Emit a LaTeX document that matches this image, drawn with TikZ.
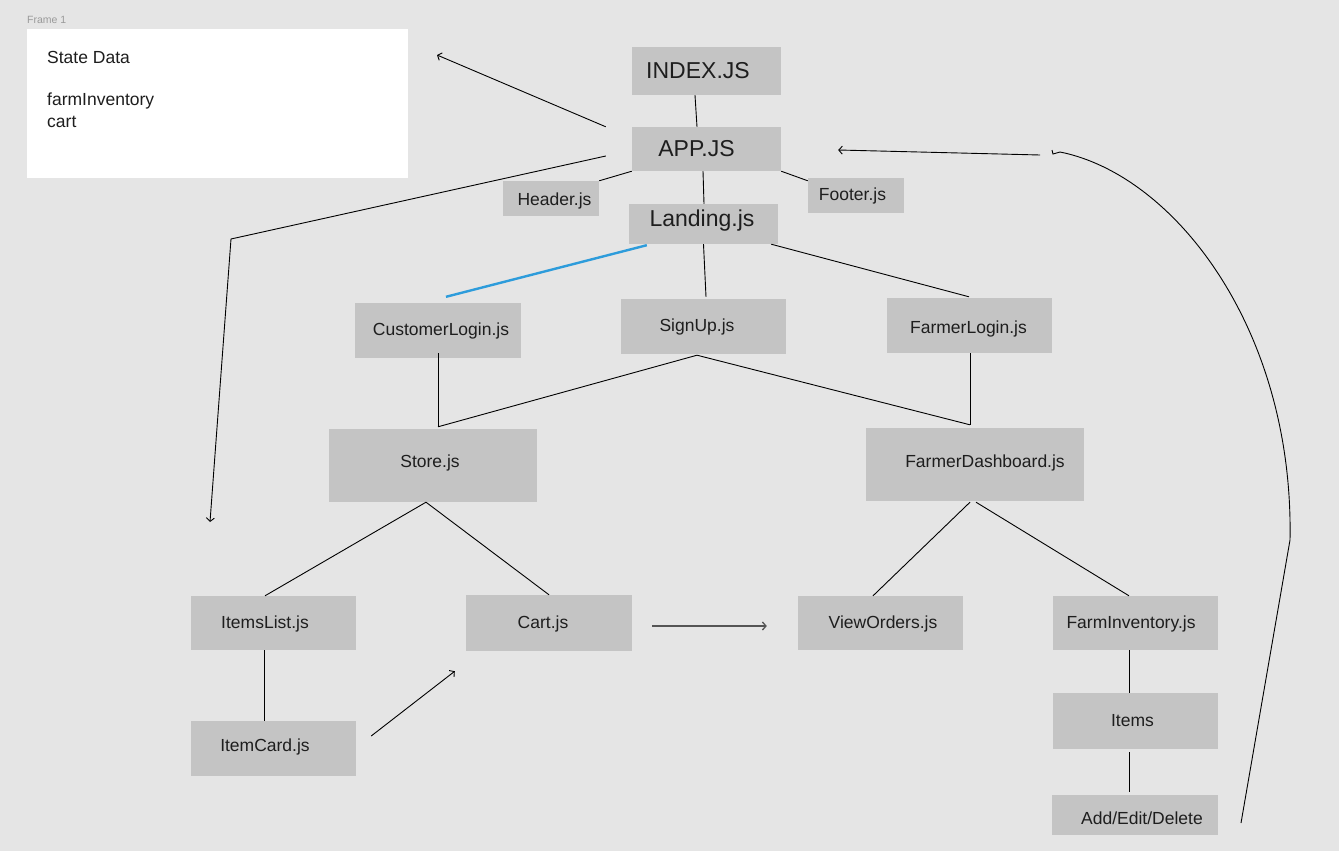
\documentclass[tikz,border=0pt]{standalone}
\usepackage{fontspec}
\setmainfont{Liberation Sans}
\usetikzlibrary{calc,arrows.meta}
\definecolor{canvas}{HTML}{E5E5E5}
\definecolor{boxgray}{HTML}{C4C4C4}
\definecolor{ink}{HTML}{1E1E1E}
\definecolor{framelbl}{HTML}{9A9A9A}
\definecolor{linkblue}{HTML}{2D9CDB}
\definecolor{arrowgray}{HTML}{555555}
\begin{document}
\begin{tikzpicture}[x=1pt,y=-1pt,
  box/.style={fill=boxgray, draw=none, inner sep=0pt},
  small/.style={text=ink, inner sep=0pt, anchor=base, font=\fontsize{17.5}{21}\selectfont},
  big/.style={text=ink, inner sep=0pt, anchor=base, font=\fontsize{23}{27}\selectfont},
  wire/.style={draw=black, line width=0.9pt},
  tip/.style={wire, -{Straight Barb[length=3.5pt,width=8pt]}},
]
% canvas
\useasboundingbox[fill=canvas] (0,0) rectangle (1339,851);

% state frame
\node[anchor=base west, inner sep=0pt, text=framelbl, font=\fontsize{10.5}{12}\selectfont] (framename) at (27,24) {Frame 1};
\node[fill=white, inner sep=0pt, minimum width=381pt, minimum height=149pt] (stateframe) at (217.5,103.5) {};
\node[small, anchor=base west] (statehdr) at (47,64) {State Data};
\node[small, anchor=base west] (stateinv) at (47,106) {farmInventory};
\node[small, anchor=base west] (statecart) at (47,127) {cart};

% boxes
\node[box, minimum width=149pt, minimum height=48pt] (index) at (706.5,71) {};
\node[big] (index-t) at (698,78) {INDEX.JS};
\node[box, minimum width=149pt, minimum height=44pt] (app) at (706.5,149) {};
\node[big] (app-t) at (696.5,156) {APP.JS};
\node[box, minimum width=96pt, minimum height=35pt] (header) at (551,198.5) {};
\node[small] (header-t) at (554.5,205) {Header.js};
\node[box, minimum width=96pt, minimum height=35pt] (footer) at (856,195.5) {};
\node[small] (footer-t) at (852.5,200) {Footer.js};
\node[box, minimum width=149pt, minimum height=40pt] (landing) at (703.5,224) {};
\node[big] (landing-t) at (702,226) {Landing.js};

\node[box, minimum width=166pt, minimum height=55pt] (customer) at (438,330.5) {};
\node[small] (customer-t) at (441,335) {CustomerLogin.js};
\node[box, minimum width=165pt, minimum height=55pt] (signup) at (703.5,326.5) {};
\node[small] (signup-t) at (697,331) {SignUp.js};
\node[box, minimum width=165pt, minimum height=55pt] (farmerlogin) at (969.5,325.5) {};
\node[small] (farmerlogin-t) at (968.5,333) {FarmerLogin.js};

\node[box, minimum width=208pt, minimum height=73pt] (store) at (433,465.5) {};
\node[small] (store-t) at (430,467) {Store.js};
\node[box, minimum width=218pt, minimum height=73pt] (dash) at (975,464.5) {};
\node[small] (dash-t) at (985,467) {FarmerDashboard.js};

\node[box, minimum width=165pt, minimum height=54pt] (itemslist) at (273.5,623) {};
\node[small] (itemslist-t) at (265,628) {ItemsList.js};
\node[box, minimum width=166pt, minimum height=56pt] (cart) at (549,623) {};
\node[small] (cart-t) at (543,628) {Cart.js};
\node[box, minimum width=165pt, minimum height=54pt] (vieworders) at (880.5,623) {};
\node[small] (vieworders-t) at (883,628) {ViewOrders.js};
\node[box, minimum width=165pt, minimum height=54pt] (farminv) at (1135.5,623) {};
\node[small] (farminv-t) at (1131,628) {FarmInventory.js};

\node[box, minimum width=165pt, minimum height=55pt] (itemcard) at (273.5,748.5) {};
\node[small] (itemcard-t) at (265,751) {ItemCard.js};
\node[box, minimum width=165pt, minimum height=56pt] (items) at (1135.5,721) {};
\node[small] (items-t) at (1132.5,726) {Items};
\node[box, minimum width=166pt, minimum height=40pt] (aed) at (1135,815) {};
\node[small] (aed-t) at (1142,824) {Add/Edit/Delete};

% free ends of the arrows
\coordinate (stateptr) at (437,55);
\coordinate (leftbend) at (231,239);
\coordinate (lefttip) at (210,522);
\coordinate (rightstart) at (1040,155);
\coordinate (loopfoot) at (1241,823);
\coordinate (loopknee) at (1290,540);
\coordinate (loophook) at (1052,150);

% tree connectors
\draw[wire] ($(index.south)+(-11.5,0)$) -- ($(app.north)+(-9.5,0)$);
\draw[wire] ($(app.south)+(-3.5,0)$) -- ($(landing.north)+(0.5,0)$);
\draw[wire] (app.south west) -- (header.north east);
\draw[wire] (app.south east) -- ($(footer.north west)+(0,3)$);
\draw[wire] (landing.south) -- ($(signup.north)+(2.5,-2)$);
\draw[wire] ($(landing.south east)+(-7,0)$) -- ($(farmerlogin.north)+(-0.5,-1)$);
\draw[draw=linkblue, line width=2.4pt] ($(landing.south west)+(18,1)$) -- ($(customer.north)+(8,-6)$);
\draw[wire] ($(customer.south)+(0,-5)$) -- ($(store.north)+(5,-2)$);
\draw[wire] ($(signup.south)+(-6.5,1)$) -- ($(store.north)+(5,-2)$);
\draw[wire] ($(signup.south)+(-6.5,1)$) -- ($(dash.north)+(-5,-3)$);
\draw[wire] ($(farmerlogin.south)+(0.5,0)$) -- ($(dash.north)+(-5,-3)$);
\draw[wire] ($(store.south)+(-7,0)$) -- ($(itemslist.north)+(-8.5,0)$);
\draw[wire] ($(store.south)+(-7,0)$) -- (cart.north);
\draw[wire] ($(dash.south)+(-5,1)$) -- ($(vieworders.north)+(-7.5,0)$);
\draw[wire] ($(dash.south)+(1,1)$) -- ($(farminv.north)+(-6.5,0)$);
\draw[wire] ($(itemslist.south)+(-9.5,0)$) -- ($(itemcard.north)+(-9.5,0)$);
\draw[wire] ($(farminv.south)+(-6.5,0)$) -- ($(items.north)+(-6.5,0)$);
\draw[wire] ($(items.south)+(-6.5,3)$) -- ($(aed.north)+(-6,-3)$);

% data flow arrows
\draw[tip, draw=arrowgray, line width=1.3pt] ($(cart.east)+(20,3)$) -- ($(vieworders.west)+(-31,3)$);
\draw[tip] ($(itemcard.east)+(15,-12.5)$) -- ($(cart.south west)+(-11,20)$);
\draw[tip] ($(app.north west)+(-26,0)$) -- (stateptr);
\draw[tip] ($(app.west)+(-26,7)$) -- (leftbend) -- (lefttip);
\draw[tip] (rightstart) -- ($(app.east)+(57,1)$);
\draw[wire] (loopfoot) -- (loopknee)
  .. controls (1294,330) and (1175,175) .. (1060,152) -- (1053,154) -- (loophook);
\end{tikzpicture}
\end{document}
